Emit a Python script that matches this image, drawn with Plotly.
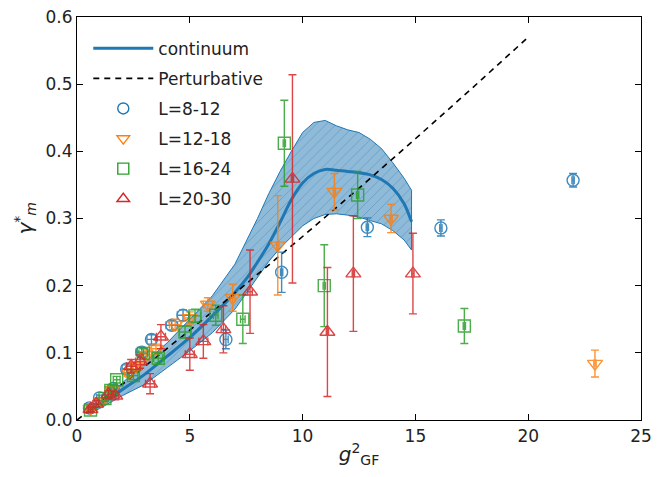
import plotly.graph_objects as go

# ---------------- data ----------------
cont_x = [0.5, 1, 2, 3, 4, 5, 6, 7, 7.5, 8, 8.5, 9, 9.5, 10, 10.5, 11, 11.5, 12, 12.5, 13, 13.5, 14, 14.5, 14.83]
cont_y = [0.011, 0.022, 0.045, 0.068, 0.095, 0.123, 0.155, 0.19, 0.21, 0.235, 0.262, 0.294, 0.328, 0.353, 0.367, 0.373, 0.372, 0.370, 0.368, 0.365, 0.358, 0.345, 0.322, 0.295]
cont_hi = [0.013, 0.027, 0.055, 0.085, 0.115, 0.15, 0.185, 0.232, 0.265, 0.30, 0.337, 0.37, 0.400, 0.428, 0.443, 0.446, 0.438, 0.432, 0.428, 0.418, 0.404, 0.383, 0.36, 0.342]
cont_lo = [0.009, 0.017, 0.036, 0.053, 0.078, 0.103, 0.13, 0.165, 0.188, 0.212, 0.236, 0.256, 0.273, 0.289, 0.300, 0.306, 0.307, 0.305, 0.302, 0.297, 0.292, 0.282, 0.268, 0.253]

pert_x = [0, 2.5, 5, 7.5, 10, 12.5, 15, 17.5, 20]
pert_y = [0, 0.0661, 0.1337, 0.2027, 0.2732, 0.3452, 0.4187, 0.4936, 0.570]

l1_x = [0.55, 1.0, 1.6, 2.2, 2.87, 3.3, 4.2, 4.7, 6.6, 9.07, 12.87, 16.13, 21.99]
l1_y = [0.018, 0.033, 0.047, 0.076, 0.101, 0.120, 0.141, 0.156, 0.120, 0.220, 0.287, 0.286, 0.357]
l1_ye = [0.003, 0.004, 0.005, 0.006, 0.007, 0.007, 0.007, 0.008, 0.014, 0.030, 0.014, 0.012, 0.010]
l1_xe = [0.1, 0.12, 0.15, 0.2, 0.25, 0.2, 0.25, 0.25, 0.1, 0.05, 0.05, 0.05, 0.05]

l2_x = [0.6, 1.1, 1.55, 2.3, 2.65, 3.1, 3.5, 4.35, 5.0, 5.8, 6.9, 8.9, 11.41, 13.92, 22.96]
l2_y = [0.017, 0.028, 0.045, 0.070, 0.080, 0.097, 0.106, 0.142, 0.152, 0.172, 0.182, 0.260, 0.340, 0.300, 0.084]
l2_ye = [0.003, 0.004, 0.005, 0.006, 0.006, 0.007, 0.007, 0.008, 0.009, 0.010, 0.020, 0.074, 0.027, 0.021, 0.020]
l2_xe = [0.1, 0.12, 0.15, 0.2, 0.2, 0.2, 0.2, 0.25, 0.25, 0.2, 0.1, 0.05, 0.05, 0.05, 0.05]

l3_x = [0.6, 1.24, 1.5, 1.76, 2.5, 2.94, 3.6, 4.79, 5.23, 6.15, 7.35, 9.19, 10.96, 12.44, 17.17]
l3_y = [0.015, 0.032, 0.044, 0.060, 0.066, 0.099, 0.092, 0.131, 0.155, 0.156, 0.150, 0.412, 0.200, 0.335, 0.140]
l3_ye = [0.003, 0.004, 0.005, 0.005, 0.006, 0.007, 0.007, 0.009, 0.010, 0.015, 0.036, 0.064, 0.061, 0.035, 0.026]
l3_xe = [0.1, 0.12, 0.15, 0.15, 0.2, 0.2, 0.2, 0.25, 0.25, 0.1, 0.1, 0.05, 0.05, 0.05, 0.05]

l4_x = [0.6, 0.85, 1.4, 1.7, 2.4, 2.8, 3.24, 3.72, 5.0, 5.6, 6.49, 7.67, 9.55, 11.1, 12.25, 14.89]
l4_y = [0.016, 0.024, 0.038, 0.036, 0.080, 0.087, 0.054, 0.124, 0.098, 0.117, 0.135, 0.191, 0.359, 0.131, 0.218, 0.218]
l4_ye = [0.004, 0.005, 0.006, 0.006, 0.010, 0.010, 0.015, 0.018, 0.024, 0.025, 0.035, 0.062, 0.155, 0.096, 0.086, 0.060]
l4_xe = [0.1, 0.1, 0.15, 0.15, 0.2, 0.2, 0.2, 0.2, 0.2, 0.2, 0.1, 0.1, 0.05, 0.05, 0.05, 0.05]

x_ticks = [0, 5, 10, 15, 20, 25]
y_ticks = [0.0, 0.1, 0.2, 0.3, 0.4, 0.5, 0.6]

# ---------------- figure ----------------
C0, C1, C2, C3 = "#1f77b4", "#ff7f0e", "#2ca02c", "#d62728"
FONT = "DejaVu Sans"

fig = go.Figure()

# band
fig.add_trace(go.Scatter(
    x=cont_x + cont_x[::-1], y=cont_hi + cont_lo[::-1],
    fill="toself", mode="lines", line=dict(color=C0, width=1),
    fillcolor="rgba(31,119,180,0.5)",
    fillpattern=dict(shape="/", bgcolor="rgba(31,119,180,0.5)", fgcolor="rgba(31,100,160,0.75)",
                     size=7, solidity=0.12),
    showlegend=False, hoverinfo="skip"))

fig.add_trace(go.Scatter(x=cont_x, y=cont_y, mode="lines", name="continuum",
                         line=dict(color=C0, width=3, shape="spline", smoothing=0.8), legendgroup="a"))
fig.add_trace(go.Scatter(x=pert_x, y=pert_y, mode="lines", name="Perturbative",
                         line=dict(color="black", width=1.6, dash="6px,5px"), legendgroup="b"))


def series(x, y, ye, xe, color, symbol, name, grp, size):
    fig.add_trace(go.Scatter(
        x=x, y=y, mode="markers", name=name, legendgroup=grp, showlegend=False,
        marker=dict(symbol=symbol, size=size, color=color, line=dict(color=color, width=1.4)),
        error_y=dict(type="data", array=ye, color=color, thickness=1.4, width=4),
        error_x=dict(type="data", array=xe, color=color, thickness=1.4, width=4),
        opacity=0.85))
    # legend entry
    fig.add_trace(go.Scatter(
        x=[None], y=[None], mode="markers", name=name, legendgroup=grp,
        marker=dict(symbol=symbol, size=11, color=color, line=dict(color=color, width=1.4))))


series(l1_x, l1_y, l1_ye, l1_xe, C0, "circle-open", "L=8-12", "c", 12)
series(l2_x, l2_y, l2_ye, l2_xe, C1, "triangle-down-open", "L=12-18", "d", 13)
series(l3_x, l3_y, l3_ye, l3_xe, C2, "square-open", "L=16-24", "e", 12)
series(l4_x, l4_y, l4_ye, l4_xe, C3, "triangle-up-open", "L=20-30", "f", 13)

axis_common = dict(showgrid=False, zeroline=False, showline=True, linecolor="black", linewidth=1.2,
                   mirror="ticks", ticks="inside", ticklen=6, tickwidth=1, tickcolor="black",
                   automargin=False, ticklabeloverflow="allow",
                   tickfont=dict(family=FONT, size=17, color="#222"))

fig.update_xaxes(range=[0, 25], tickvals=x_ticks, ticktext=[str(v) for v in x_ticks],
                 title=dict(text="<i>g</i><sup>2</sup><sub>GF</sub>", font=dict(family=FONT, size=20, color="#222"),
                            standoff=2),
                 **axis_common)
fig.update_yaxes(range=[0, 0.6], tickvals=y_ticks, ticktext=[f"{v:.1f}" for v in y_ticks],
                 **axis_common)

fig.add_annotation(text="<i>γ</i><sup>*</sup><sub><i>m</i></sub>", xref="paper", yref="paper",
                   x=-0.092, y=0.5, xanchor="center", yanchor="middle", textangle=-90, showarrow=False,
                   font=dict(family=FONT, size=20, color="#222"))

# page body adds an 8px offset; size the figure to fit the remaining window
fig.update_layout(
    width=656, height=469,
    margin=dict(l=69, r=23, t=9, b=57),
    plot_bgcolor="white", paper_bgcolor="white",
    legend=dict(x=0.02, y=0.966, xanchor="left", yanchor="top", bgcolor="rgba(255,255,255,0)",
                font=dict(family=FONT, size=17, color="#222"), tracegroupgap=5, itemwidth=60),
)

fig.write_html("out.html")
